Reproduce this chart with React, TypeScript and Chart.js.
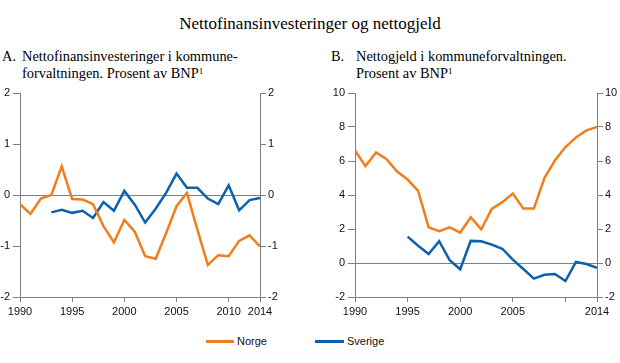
import React, { useEffect, useRef } from "react";
import { Chart, registerables } from "chart.js";

Chart.register(...registerables);

const YEARS = [1990,1991,1992,1993,1994,1995,1996,1997,1998,1999,2000,2001,2002,2003,2004,2005,2006,2007,2008,2009,2010,2011,2012,2013];

// Panel A: Nettofinansinvesteringer (prosent av BNP)
const A_NORGE = [-0.18,-0.37,-0.07,0.0,0.56,-0.08,-0.09,-0.18,-0.61,-0.93,-0.49,-0.72,-1.2,-1.25,-0.75,-0.22,0.04,-0.68,-1.37,-1.18,-1.2,-0.9,-0.79,-1.01];
const A_SVERIGE = [null,null,null,-0.34,-0.29,-0.35,-0.31,-0.45,-0.14,-0.31,0.08,-0.19,-0.54,-0.27,0.04,0.42,0.14,0.14,-0.07,-0.18,0.19,-0.3,-0.1,-0.06];

// Panel B: Nettogjeld (prosent av BNP)
const B_NORGE = [6.62,5.7,6.5,6.1,5.38,4.91,4.24,2.1,1.87,2.1,1.79,2.69,1.98,3.18,3.58,4.09,3.2,3.2,5.0,6.03,6.82,7.39,7.8,8.0];
const B_SVERIGE = [null,null,null,null,null,1.55,1.02,0.53,1.28,0.16,-0.37,1.3,1.28,1.08,0.84,0.2,-0.35,-0.92,-0.69,-0.65,-1.06,0.06,-0.06,-0.29];

const X_TICKS = [1990, 1995, 2000, 2005, 2010, 2013];
const A_X_LABELS = ["1990", "1995", "2000", "2005", "2010", "2014"];
const B_X_LABELS = ["1990", "1995", "2000", "2005", "", "2014"];

const SERIES_NAMES = ["Norge", "Sverige"];
const ORANGE = "#F07E1E";
const BLUE = "#0B61B0";
const AXIS = "#7f7f7f";
const TICK_FONT = { family: "'Liberation Sans', Arial, sans-serif", size: 11 };

function buildConfig(norge: (number | null)[], sverige: (number | null)[], yMin: number, yMax: number, yStep: number, xLabels: string[], leftW: number, rightW: number): any {
  const toPts = (arr: (number | null)[]) => YEARS.map((y, i) => ({ x: y, y: arr[i] }));
  const yBase = {
    min: yMin,
    max: yMax,
    ticks: { stepSize: yStep, color: "#111", font: TICK_FONT, padding: 3 },
    border: { display: true, color: AXIS, width: 1 },
  };
  return {
    type: "line",
    data: {
      datasets: [
        { label: SERIES_NAMES[0], data: toPts(norge), borderColor: ORANGE, borderWidth: 2.5, pointRadius: 0, tension: 0, fill: false },
        { label: SERIES_NAMES[1], data: toPts(sverige), borderColor: BLUE, borderWidth: 2.5, pointRadius: 0, tension: 0, fill: false },
      ],
    },
    options: {
      responsive: false,
      animation: false,
      events: [],
      layout: { padding: { top: 13, left: 0, right: 0, bottom: 0 } },
      plugins: { legend: { display: false }, tooltip: { enabled: false }, title: { display: false } },
      scales: {
        x: {
          type: "linear",
          min: 1990,
          max: 2013,
          afterBuildTicks: (s: any) => { s.ticks = X_TICKS.map((v) => ({ value: v })); },
          afterFit: (s: any) => { s.height = 23; s.paddingLeft = 0; s.paddingRight = 0; },
          ticks: {
            autoSkip: false,
            maxRotation: 0,
            color: "#111",
            font: TICK_FONT,
            padding: 3,
            callback: (v: any) => { const i = X_TICKS.indexOf(v); return i >= 0 ? xLabels[i] : ""; },
          },
          grid: { drawOnChartArea: false, tickLength: 5, color: AXIS, tickColor: AXIS },
          border: { display: true, color: AXIS, width: 1 },
        },
        y: {
          ...yBase,
          position: "left",
          afterFit: (s: any) => { s.width = leftW; s.paddingTop = 0; s.paddingBottom = 0; },
          grid: {
            tickLength: 7,
            tickColor: AXIS,
            color: (c: any) => (c.tick && c.tick.value === 0 ? AXIS : "rgba(0,0,0,0)"),
            lineWidth: 1,
          },
        },
        y2: {
          ...yBase,
          position: "right",
          afterFit: (s: any) => { s.width = rightW; s.paddingTop = 0; s.paddingBottom = 0; },
          ticks: { ...yBase.ticks, padding: 2 },
          grid: { drawOnChartArea: false, tickLength: 6, tickColor: AXIS, color: AXIS },
        },
      },
    },
  };
}

function ChartCanvas({ cfg, style, width, height }: any) {
  const ref = useRef<HTMLCanvasElement>(null);
  useEffect(() => {
    if (!ref.current) return;
    const chart = new Chart(ref.current, cfg());
    return () => chart.destroy();
  }, []);
  return <canvas ref={ref} width={width} height={height} style={{ position: "absolute", width, height, ...style }} />;
}

const serif = "'Liberation Serif', 'Times New Roman', serif";
const sans = "'Liberation Sans', Arial, sans-serif";

export default function App() {
  return (
    <div style={{ position: "absolute", left: 0, top: 0, width: 620, height: 363, background: "#fff", overflow: "hidden" }}>
      <div style={{ position: "absolute", left: 0, top: 14, width: 620, textAlign: "center", fontFamily: serif, fontSize: 17, lineHeight: "20px", color: "#000" }}>
        Nettofinansinvesteringer og nettogjeld
      </div>
      <div style={{ position: "absolute", left: 2, top: 48, fontFamily: serif, fontSize: 14.4, lineHeight: "17px", color: "#000" }}>A.</div>
      <div style={{ position: "absolute", left: 22, top: 48, fontFamily: serif, fontSize: 14.4, lineHeight: "17px", color: "#000", whiteSpace: "nowrap" }}>
        Nettofinansinvesteringer i kommune-<br />forvaltningen. Prosent av BNP<sup style={{ fontSize: 9, verticalAlign: "top", lineHeight: "12px" }}>1</sup>
      </div>
      <div style={{ position: "absolute", left: 331, top: 48, fontFamily: serif, fontSize: 14.4, lineHeight: "17px", color: "#000" }}>B.</div>
      <div style={{ position: "absolute", left: 356, top: 48, fontFamily: serif, fontSize: 14.4, lineHeight: "17px", color: "#000", whiteSpace: "nowrap" }}>
        Nettogjeld i kommuneforvaltningen.<br />Prosent av BNP<sup style={{ fontSize: 9, verticalAlign: "top", lineHeight: "12px" }}>1</sup>
      </div>

      <ChartCanvas
        width={300}
        height={240}
        style={{ left: 0, top: 80 }}
        cfg={() => buildConfig(A_NORGE, A_SVERIGE, -2, 2, 1, A_X_LABELS, 20, 40)}
      />
      <ChartCanvas
        width={310}
        height={240}
        style={{ left: 310, top: 80 }}
        cfg={() => buildConfig(B_NORGE, B_SVERIGE, -2, 10, 2, B_X_LABELS, 45, 23)}
      />

      <div style={{ position: "absolute", left: 206, top: 340, width: 28, height: 2.5, background: ORANGE }} />
      <div style={{ position: "absolute", left: 237, top: 334, fontFamily: sans, fontSize: 11, lineHeight: "14px", color: "#111" }}>{SERIES_NAMES[0]}</div>
      <div style={{ position: "absolute", left: 315, top: 340, width: 29, height: 2.5, background: BLUE }} />
      <div style={{ position: "absolute", left: 347, top: 334, fontFamily: sans, fontSize: 11, lineHeight: "14px", color: "#111" }}>{SERIES_NAMES[1]}</div>
    </div>
  );
}
